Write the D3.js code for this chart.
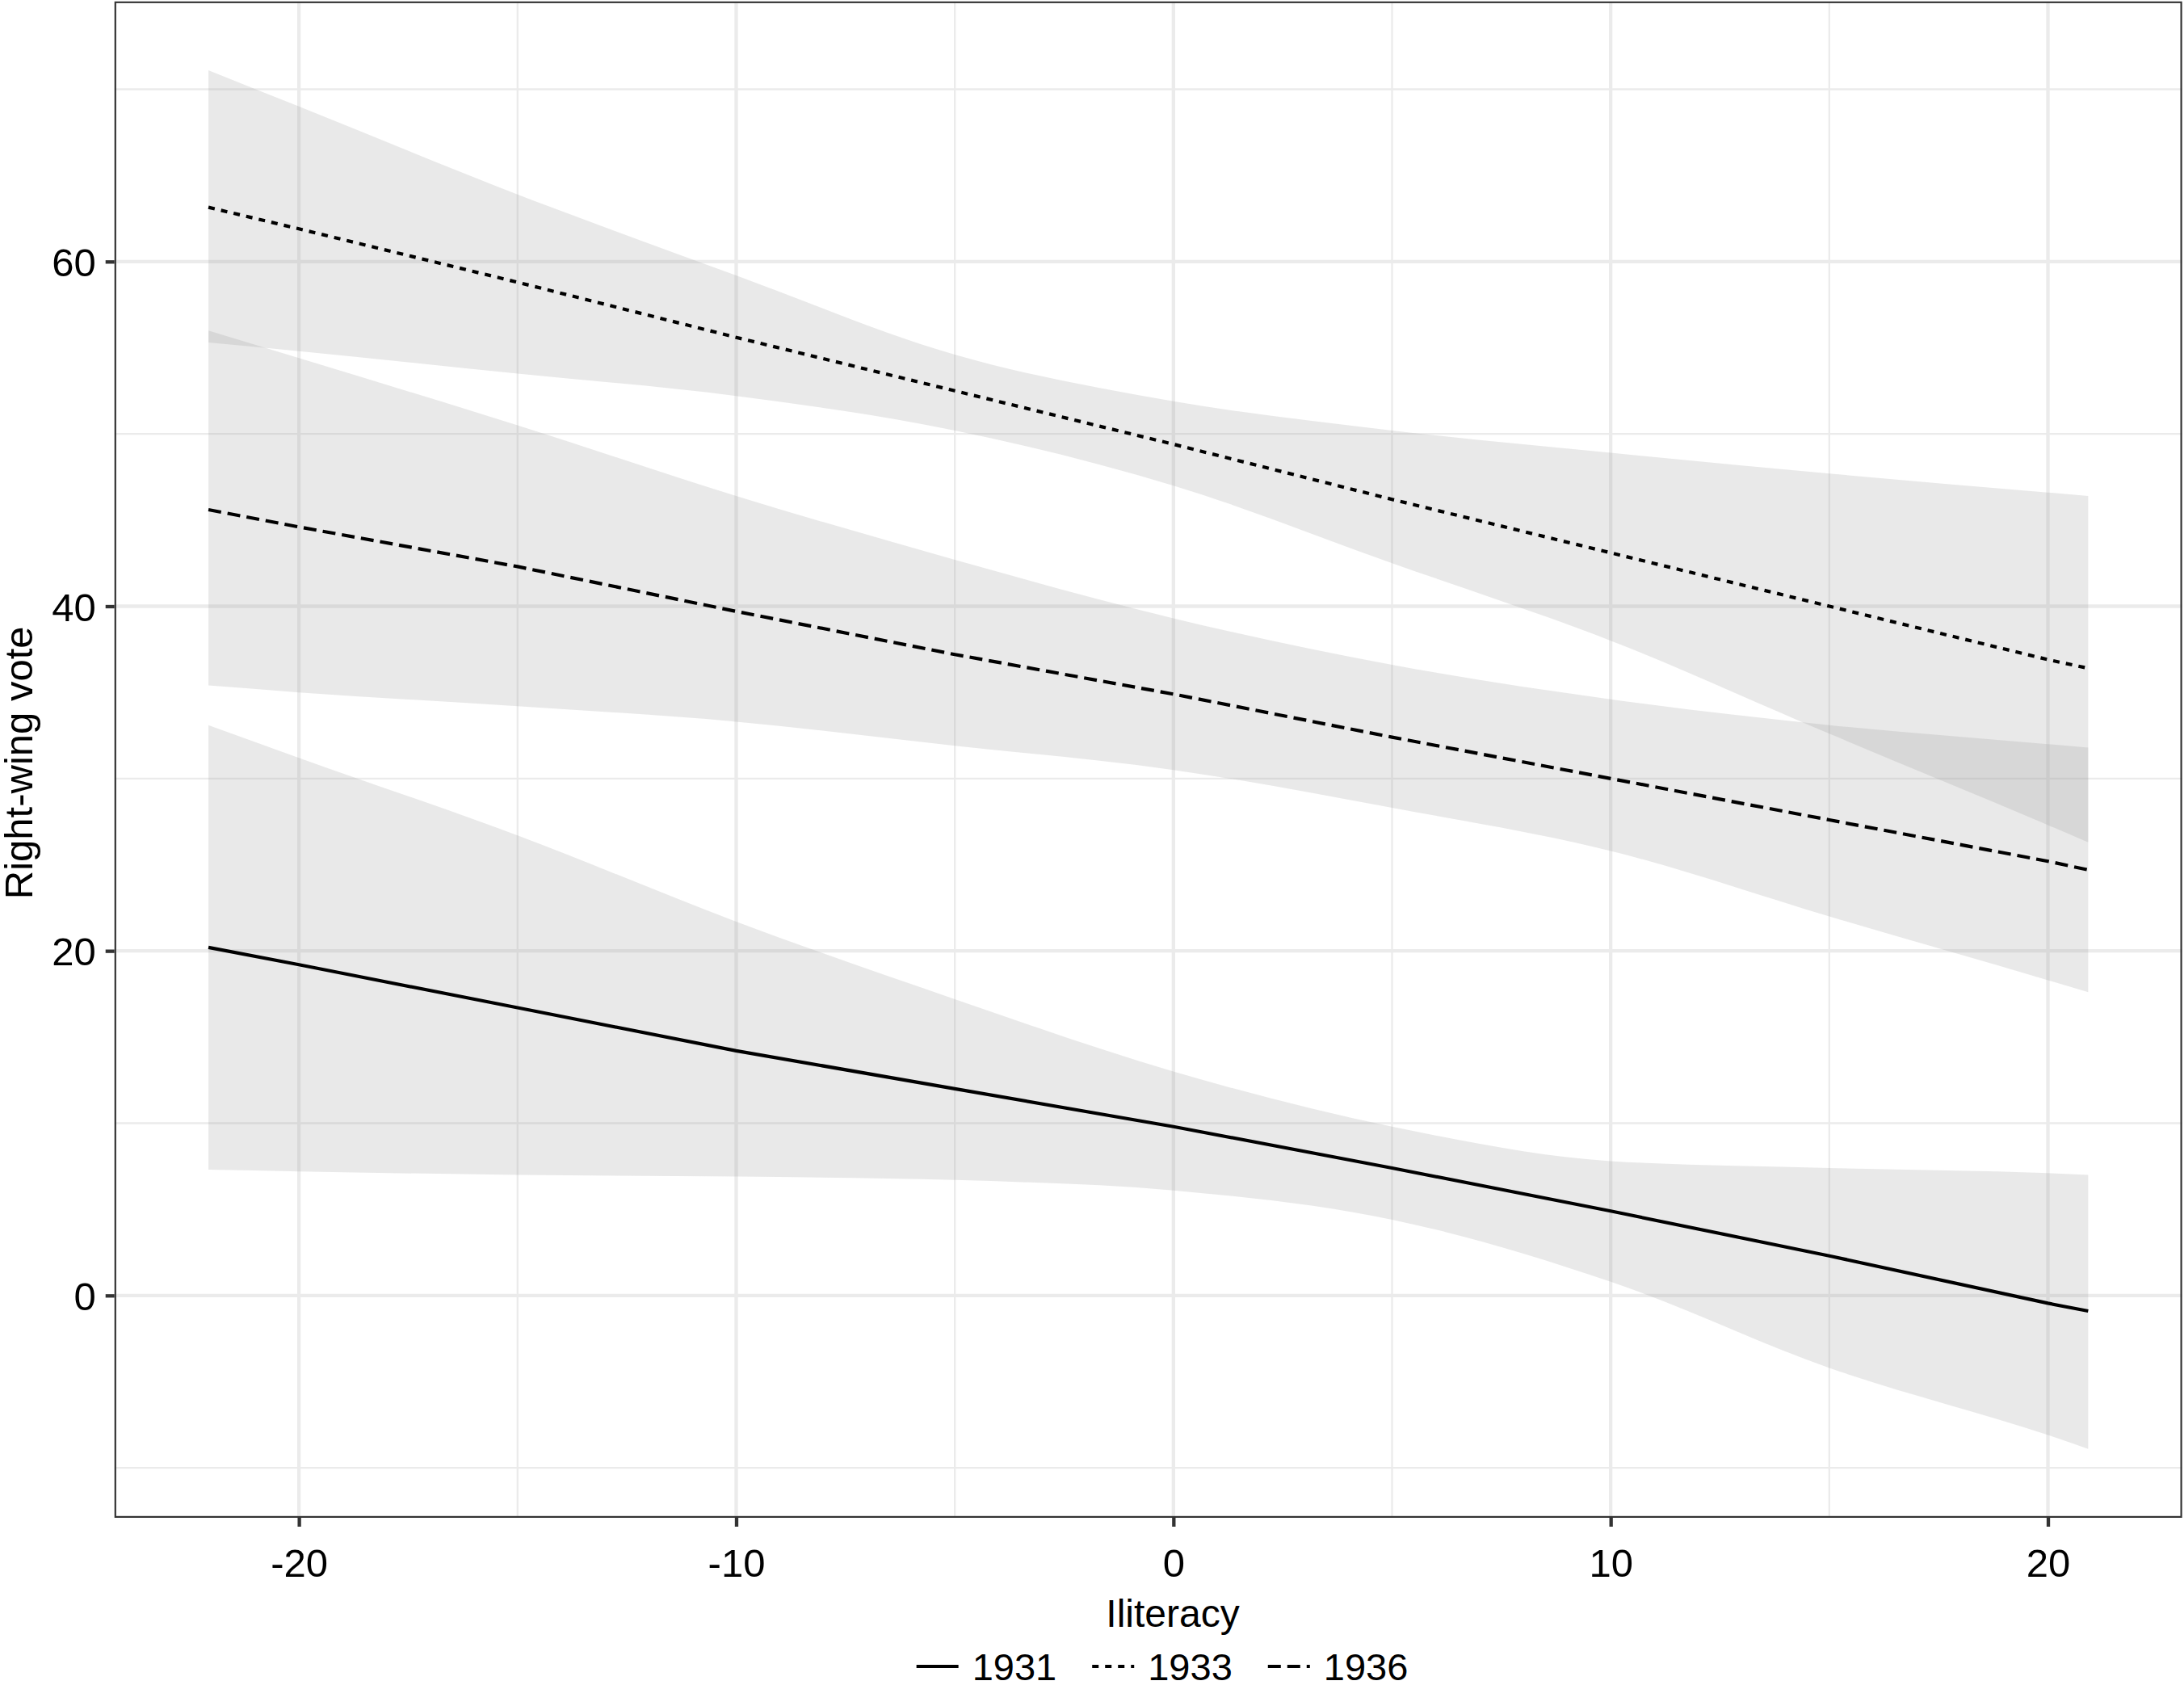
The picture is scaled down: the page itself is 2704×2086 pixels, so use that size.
<!DOCTYPE html>
<html>
<head>
<meta charset="utf-8">
<script src="https://cdn.jsdelivr.net/npm/d3@7"></script>
<style>
  body { margin: 0; background: #fff; }
  svg { display: block; }
  text { font-family: "Liberation Sans", Arial, Helvetica, sans-serif; fill: #000; }
</style>
</head>
<body>
<svg id="vis"></svg>
<script>
const width = 2704;
const height = 2086;
const panel = {left: 141.7, right: 2701.7, top: 1.7, bottom: 1879};

// illiteracy (centered) values where the bands were read
const xs = [-22.07, -20, -15, -10, -5, 0, 5, 10, 15, 20, 20.92];

const years = ['1931', '1933', '1936'];
const fit1931 = [20.2, 19.2, 16.7, 14.2, 12.0, 9.8, 7.4, 4.9, 2.3, -0.45, -0.9];
const lo1931 = [7.3, 7.2, 7.0, 6.9, 6.7, 6.1, 4.4, 0.8, -4.2, -8.1, -8.9];
const hi1931 = [33.1, 31.2, 26.7, 21.7, 17.2, 13.0, 9.8, 7.8, 7.4, 7.1, 7.0];

const fit1933 = [63.15, 61.9, 58.8, 55.6, 52.5, 49.4, 46.2, 43.1, 40.0, 36.9, 36.4];
const lo1933 = [55.3, 54.8, 53.5, 52.2, 50.2, 47.0, 42.5, 38.0, 32.6, 27.3, 26.3];
const hi1933 = [71.1, 69.0, 63.9, 59.2, 54.6, 51.9, 50.2, 48.9, 47.7, 46.6, 46.4];

const fit1936 = [45.6, 44.6, 42.3, 39.7, 37.2, 34.9, 32.4, 30.0, 27.6, 25.2, 24.7];
const lo1936 = [35.4, 35.0, 34.2, 33.3, 31.9, 30.5, 28.3, 25.8, 22.0, 18.3, 17.6];
const hi1936 = [56.0, 54.4, 50.5, 46.4, 42.7, 39.3, 36.6, 34.6, 33.1, 32.0, 31.8];

const xMajor = [-20, -10, 0, 10, 20];
const xMinor = [-15, -5, 5, 15];
const yMajor = [0, 20, 40, 60];
const yMinor = [-10, 10, 30, 50, 70];

const dashes = {'1931': null, '1933': '8,8', '1936': '16,8'};

const series = [
  {year: '1931', fit: fit1931, lo: lo1931, hi: hi1931},
  {year: '1933', fit: fit1933, lo: lo1933, hi: hi1933},
  {year: '1936', fit: fit1936, lo: lo1936, hi: hi1936}
];

const svg = d3.select('#vis').attr('width', width).attr('height', height);

// ggplot-style 5% expansion
const xExt = d3.extent(xs);
const xPad = (xExt[1] - xExt[0]) * 0.05;
const allY = series.flatMap(s => s.lo.concat(s.hi));
const yExt = d3.extent(allY);
const yPad = (yExt[1] - yExt[0]) * 0.05;

const x = d3.scaleLinear().domain([xExt[0] - xPad, xExt[1] + xPad]).range([panel.left, panel.right]);
const y = d3.scaleLinear().domain([yExt[0] - yPad, yExt[1] + yPad]).range([panel.bottom, panel.top]);

svg.append('defs').append('clipPath').attr('id', 'clip')
  .append('rect')
  .attr('x', panel.left).attr('y', panel.top)
  .attr('width', panel.right - panel.left).attr('height', panel.bottom - panel.top);

const plot = svg.append('g').attr('clip-path', 'url(#clip)');

// grid
plot.selectAll('line.xminor').data(xMinor).enter().append('line')
  .attr('x1', d => x(d)).attr('x2', d => x(d)).attr('y1', panel.top).attr('y2', panel.bottom)
  .attr('stroke', '#ebebeb').attr('stroke-width', 2.3);
plot.selectAll('line.yminor').data(yMinor).enter().append('line')
  .attr('y1', d => y(d)).attr('y2', d => y(d)).attr('x1', panel.left).attr('x2', panel.right)
  .attr('stroke', '#ebebeb').attr('stroke-width', 2.3);
plot.selectAll('line.xmajor').data(xMajor).enter().append('line')
  .attr('x1', d => x(d)).attr('x2', d => x(d)).attr('y1', panel.top).attr('y2', panel.bottom)
  .attr('stroke', '#ebebeb').attr('stroke-width', 4.3);
plot.selectAll('line.ymajor').data(yMajor).enter().append('line')
  .attr('y1', d => y(d)).attr('y2', d => y(d)).attr('x1', panel.left).attr('x2', panel.right)
  .attr('stroke', '#ebebeb').attr('stroke-width', 4.3);

// confidence bands
const area = d3.area()
  .x((d, i) => x(xs[i]))
  .y0(d => y(d[0]))
  .y1(d => y(d[1]))
  .curve(d3.curveMonotoneX);

series.forEach(s => {
  const band = s.lo.map((v, i) => [v, s.hi[i]]);
  plot.append('path')
    .datum(band)
    .attr('d', area)
    .attr('fill', '#999999')
    .attr('fill-opacity', 0.21);
});

// fitted lines
const line = d3.line().x((d, i) => x(xs[i])).y(d => y(d));
series.forEach(s => {
  plot.append('path')
    .datum(s.fit)
    .attr('d', line)
    .attr('fill', 'none')
    .attr('stroke', '#000')
    .attr('stroke-width', 4.2)
    .attr('stroke-dasharray', dashes[s.year]);
});

// panel border
plot.append('rect')
  .attr('x', panel.left).attr('y', panel.top)
  .attr('width', panel.right - panel.left).attr('height', panel.bottom - panel.top)
  .attr('fill', 'none').attr('stroke', '#333333').attr('stroke-width', 4.4);

// axes
const xAxis = svg.append('g').attr('transform', `translate(0,${panel.bottom})`)
  .call(d3.axisBottom(x).tickValues(xMajor).tickFormat(d => String(d)).tickSize(11).tickPadding(27));
const yAxis = svg.append('g').attr('transform', `translate(${panel.left},0)`)
  .call(d3.axisLeft(y).tickValues(yMajor).tickFormat(d => String(d)).tickSize(11).tickPadding(12));
[xAxis, yAxis].forEach(a => {
  a.select('.domain').remove();
  a.selectAll('.tick line').attr('stroke', '#333333').attr('stroke-width', 4.3);
  a.selectAll('.tick text').attr('font-size', 49).attr('fill', '#000')
    .attr('font-family', '"Liberation Sans", Arial, Helvetica, sans-serif');
});
yAxis.selectAll('.tick text').attr('dy', '0.36em');

// titles
svg.append('text')
  .attr('x', 1452).attr('y', 2014)
  .attr('text-anchor', 'middle')
  .attr('font-size', 48)
  .text('Iliteracy');

svg.append('text')
  .attr('transform', `translate(40,${(panel.top + panel.bottom) / 2 + 4}) rotate(-90)`)
  .attr('text-anchor', 'middle')
  .attr('font-size', 49)
  .text('Right-wing vote');

// legend
const legend = svg.append('g');
const keyW = 52, keyGap = 17, itemGap = 44;
const legY = 2063;
let cursor = 0;
years.forEach(yr => {
  const g = legend.append('g').attr('transform', `translate(${cursor},0)`);
  g.append('line')
    .attr('x1', 0).attr('x2', keyW).attr('y1', legY).attr('y2', legY)
    .attr('stroke', '#000').attr('stroke-width', 4.2)
    .attr('stroke-dasharray', dashes[yr]);
  const t = g.append('text')
    .attr('x', keyW + keyGap).attr('y', legY + 17)
    .attr('font-size', 47)
    .text(yr);
  cursor += keyW + keyGap + t.node().getComputedTextLength() + itemGap;
});
const legW = cursor - itemGap;
legend.attr('transform', `translate(${1439 - legW / 2},0)`);
</script>
</body>
</html>
